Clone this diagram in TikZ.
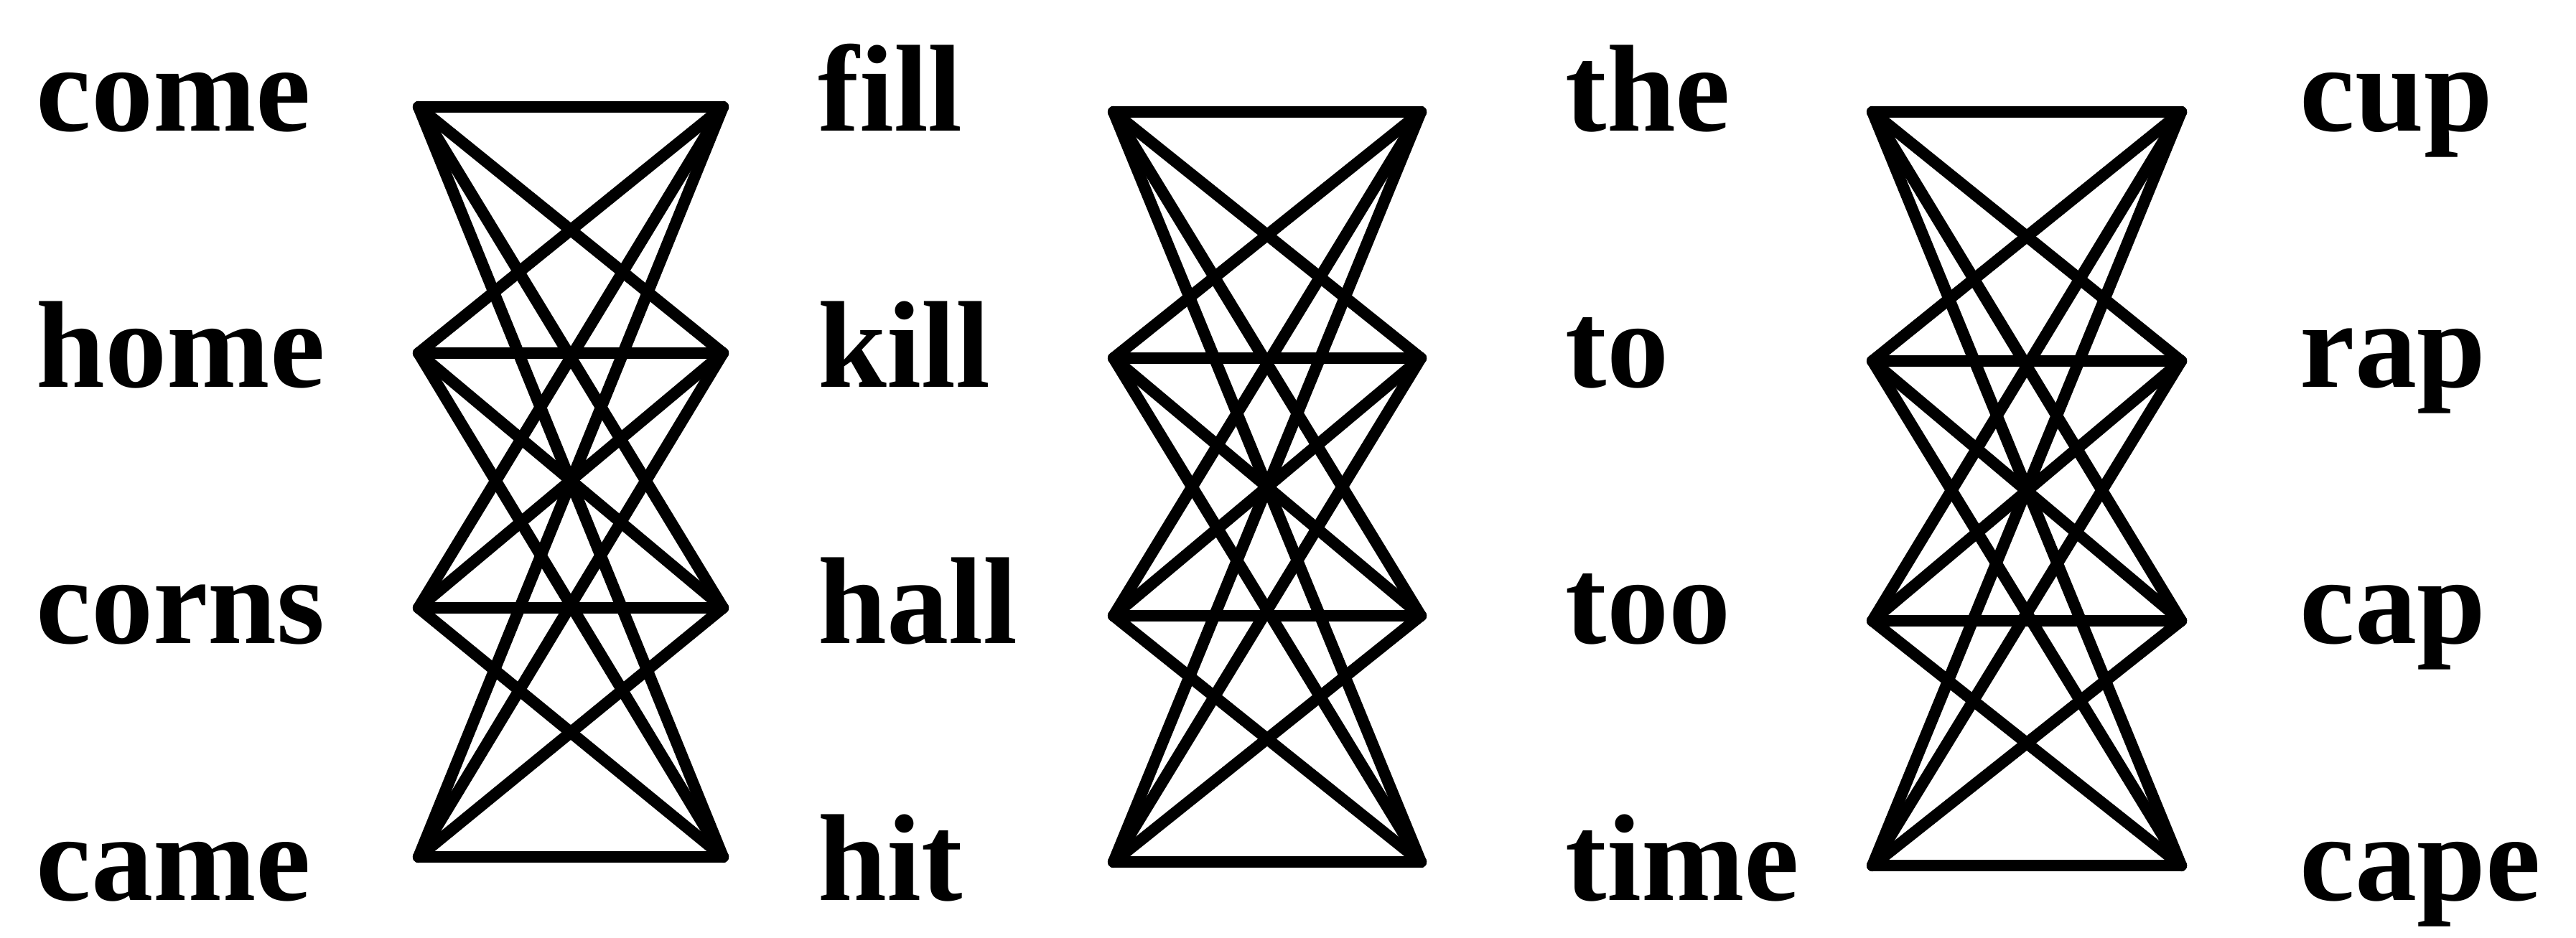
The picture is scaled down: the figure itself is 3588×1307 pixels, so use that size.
\documentclass[tikz,border=0pt]{standalone}
\usepackage{fontspec}
\setmainfont{Liberation Serif}
\begin{document}
\begin{tikzpicture}[x=0.01cm,y=-0.01cm,
  word/.style={anchor=base west,inner sep=0pt,font=\fontsize{49}{49}\selectfont\bfseries},
  edge/.style={line width=4.6pt,line cap=round,line join=round}]
\useasboundingbox (0,0) rectangle (3588,1307);
% words
\foreach \w/\n [count=\i] in {come/a1,home/a2,corns/a3,came/a4}{
  \node[word] (\n) at (50,{183+(\i-1)*357}) {\w};}
\foreach \w/\n [count=\i] in {fill/b1,kill/b2,hall/b3,hit/b4}{
  \node[word] (\n) at (1139,{183+(\i-1)*357}) {\w};}
\foreach \w/\n [count=\i] in {the/c1,to/c2,too/c3,time/c4}{
  \node[word] (\n) at (2180,{183+(\i-1)*357}) {\w};}
\foreach \w/\n [count=\i] in {cup/d1,rap/d2,cap/d3,cape/d4}{
  \node[word] (\n) at (3203,{183+(\i-1)*357}) {\w};}
% lattice points
\foreach \y [count=\i] in {149,492,847,1194}{
  \coordinate (pL\i) at (583,\y);
  \coordinate (pR\i) at (1007,\y);}
\foreach \y [count=\i] in {156,499,858,1201}{
  \coordinate (qL\i) at (1551,\y);
  \coordinate (qR\i) at (1979,\y);}
\foreach \y [count=\i] in {156,503,865,1206}{
  \coordinate (rL\i) at (2608,\y);
  \coordinate (rR\i) at (3038,\y);}
% connectors
\foreach \i in {1,...,4}{
  \foreach \j in {1,...,4}{
    \draw[edge] (pL\i) -- (pR\j);
    \draw[edge] (qL\i) -- (qR\j);
    \draw[edge] (rL\i) -- (rR\j);
  }}
\end{tikzpicture}
\end{document}
